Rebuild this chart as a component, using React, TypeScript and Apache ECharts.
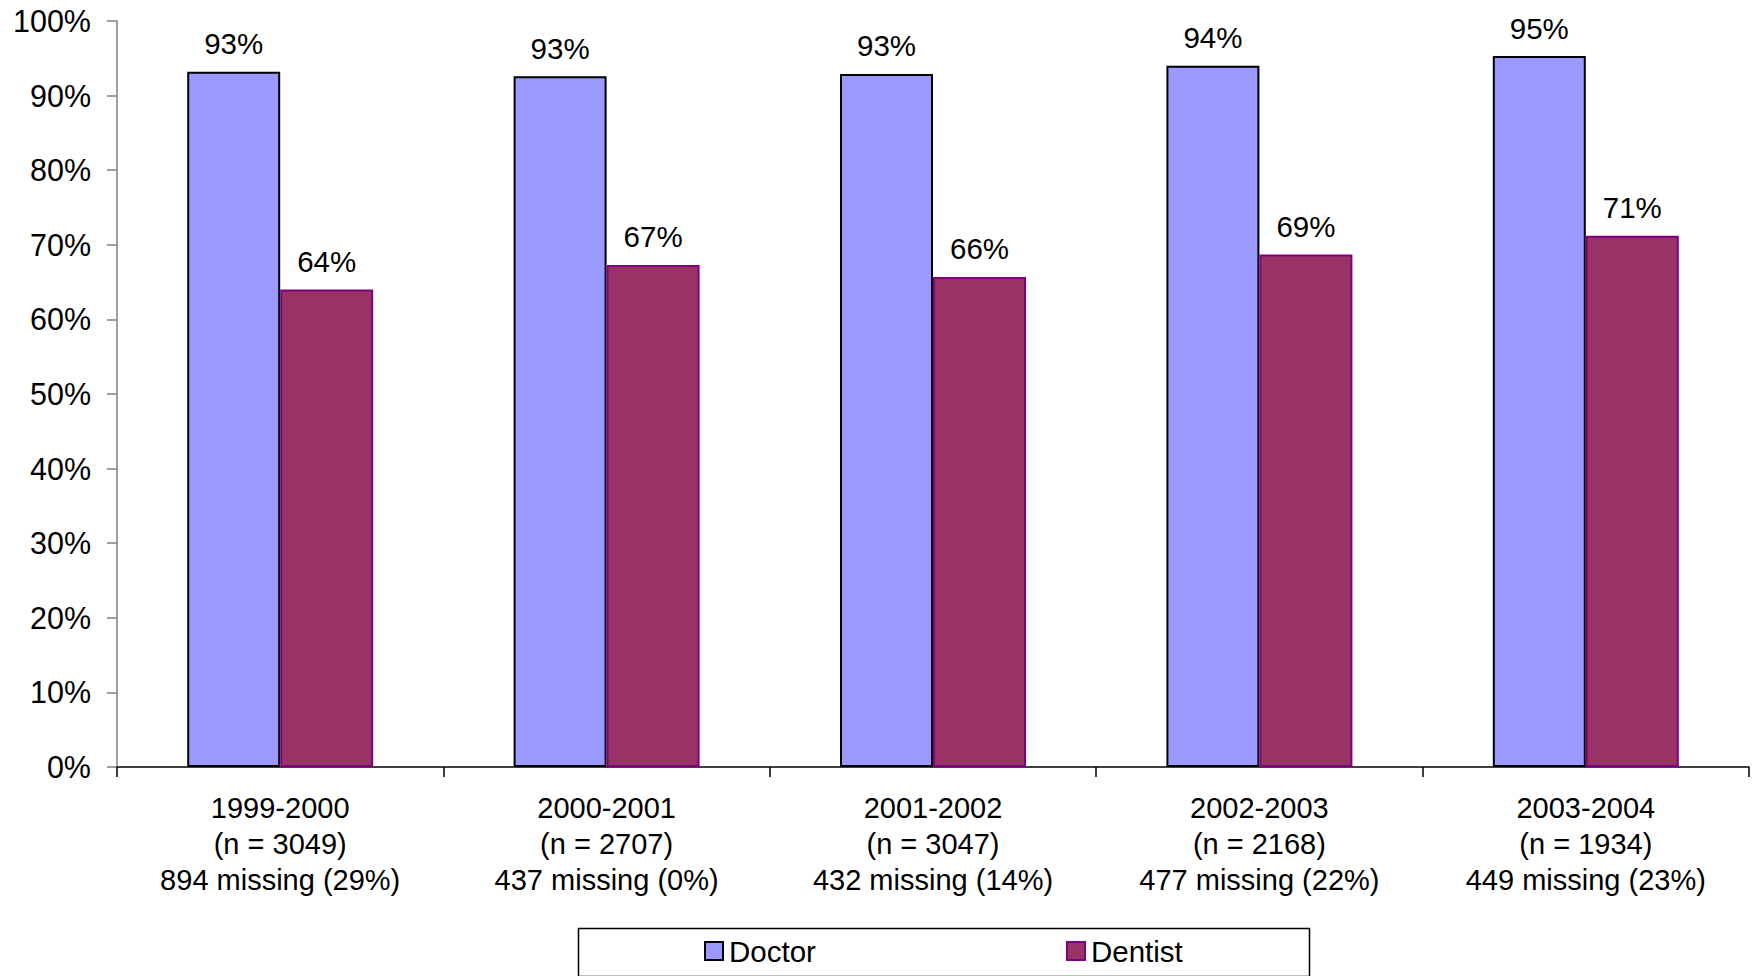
import React, { useEffect, useRef } from "react";
import * as echarts from "echarts";

const categories = [
  "1999-2000\n(n = 3049)\n894 missing (29%)",
  "2000-2001\n(n = 2707)\n437 missing (0%)",
  "2001-2002\n(n = 3047)\n432 missing (14%)",
  "2002-2003\n(n = 2168)\n477 missing (22%)",
  "2003-2004\n(n = 1934)\n449 missing (23%)",
];
const doctorValues = [93.2, 92.6, 92.9, 94.0, 95.3];
const dentistValues = [64.0, 67.3, 65.7, 68.7, 71.2];
const yTicks = { min: 0, max: 100, interval: 10 };

const FONT = "'Liberation Sans', Arial, sans-serif";

export default function App() {
  const ref = useRef<HTMLDivElement>(null);
  useEffect(() => {
    if (!ref.current) return;
    const chart = echarts.init(ref.current, undefined, { renderer: "svg" });
    const labelCfg = {
      show: true,
      position: "top",
      distance: 13,
      color: "#000",
      fontSize: 29.5,
      fontFamily: FONT,
      formatter: (p: any) => Math.round(p.value) + "%",
    };
    const legendText = { fontSize: 29.5, lineHeight: 29, color: "#000", fontFamily: FONT, padding: [0, 0, 0, 1] };
    chart.setOption({
      animation: false,
      backgroundColor: "#fff",
      textStyle: { fontFamily: FONT },
      grid: { left: 117, right: 15, top: 21, bottom: 209, containLabel: false },
      xAxis: {
        type: "category",
        data: categories,
        axisLine: { lineStyle: { color: "#000", width: 1.5 } },
        axisTick: { show: true, length: 10, alignWithLabel: false, lineStyle: { color: "#000", width: 1.5 } },
        axisLabel: {
          interval: 0,
          color: "#000",
          fontSize: 29,
          lineHeight: 36,
          margin: 23,
          fontFamily: FONT,
        },
      },
      yAxis: {
        type: "value",
        min: yTicks.min,
        max: yTicks.max,
        interval: yTicks.interval,
        splitLine: { show: false },
        axisLine: { show: true, lineStyle: { color: "#808080", width: 1.5 } },
        axisTick: { show: true, length: 10, lineStyle: { color: "#808080", width: 1.5 } },
        axisLabel: {
          formatter: "{value}%",
          color: "#000",
          fontSize: 30.5,
          margin: 26,
          fontFamily: FONT,
        },
      },
      legend: [
        {
          data: [{ name: "Doctor", itemStyle: { borderColor: "#000", borderWidth: 2 } }],
          left: 704,
          top: 936,
          padding: 0,
          itemWidth: 18,
          itemHeight: 18,
          itemGap: 0,
          icon: "rect",
          textStyle: legendText,
        },
        {
          data: [{ name: "Dentist", itemStyle: { borderColor: "#800080", borderWidth: 2 } }],
          left: 1066,
          top: 936,
          padding: 0,
          itemWidth: 18,
          itemHeight: 18,
          itemGap: 0,
          icon: "rect",
          textStyle: legendText,
        },
      ],
      graphic: [
        {
          type: "rect",
          left: 576,
          top: 926,
          shape: { x: 0, y: 0, width: 731, height: 48 },
          style: { fill: "none", stroke: "#000", lineWidth: 1.5 },
          z: -1,
        },
      ],
      series: [
        {
          name: "Doctor",
          type: "bar",
          data: doctorValues,
          barWidth: 93,
          barGap: "0%",
          itemStyle: { color: "#9999FF", borderColor: "#000", borderWidth: 2 },
          label: labelCfg,
        },
        {
          name: "Dentist",
          type: "bar",
          data: dentistValues,
          barWidth: 93,
          barGap: "0%",
          itemStyle: { color: "#993366", borderColor: "#800080", borderWidth: 2 },
          label: labelCfg,
        },
      ],
    });
    return () => chart.dispose();
  }, []);
  return (
    <div
      ref={ref}
      style={{ position: "fixed", left: 0, top: 0, width: 1764, height: 976, background: "#fff" }}
    />
  );
}
